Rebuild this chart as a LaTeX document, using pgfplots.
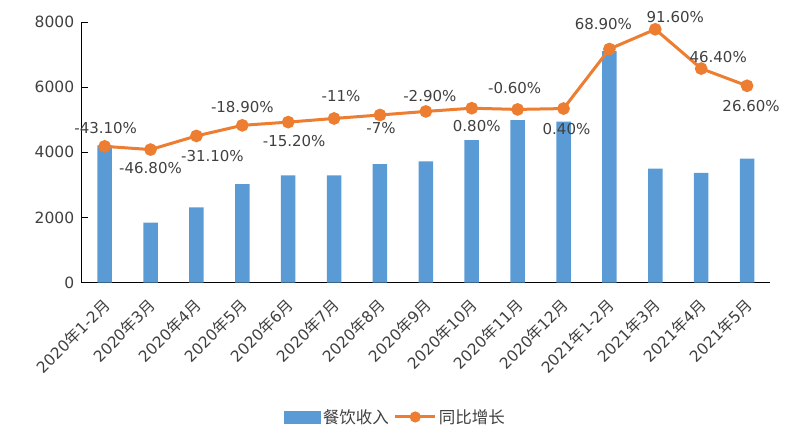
\documentclass[border=0pt]{standalone}
\usepackage{pgfplots}
\pgfplotsset{compat=1.18}
\usepackage{pgfplotstable}
\usepackage{fontspec}
\setmainfont{DejaVu Sans}
\newfontfamily\cjk{Noto Sans CJK SC}
\definecolor{barblue}{HTML}{5B9BD5}
\definecolor{lineorange}{HTML}{ED7D31}
\definecolor{txt}{HTML}{404040}
\newcommand\N{{\cjk 年}}
\newcommand\Y{{\cjk 月}}

\pgfplotstableread{
x rev
0 4215
1 1840
2 2313
3 3028
4 3294
5 3294
6 3641
7 3724
8 4377
9 4991
10 4945
11 7107
12 3497
13 3374
14 3804
}\revtable

\pgfplotstableread{
x pct lab dx dy
0 -43.1 -43.10 1 18
1 -46.8 -46.80 0 -18
2 -31.1 -31.10 16 -20
3 -18.9 -18.90 0 18
4 -15.2 -15.20 6 -19
5 -11 -11 7 22
6 -7 -7 1 -13
7 -2.9 -2.90 4 15
8 0.8 0.80 5 -18
9 -0.6 -0.60 -3 21
10 0.4 0.40 3 -20
11 68.9 68.90 -6 25
12 91.6 91.60 20 12
13 46.4 46.40 17 12
14 26.6 26.60 4 -20
}\pcttable

\begin{document}
\begin{tikzpicture}
\begin{axis}[
  at={(81.7bp,-282.7bp)}, anchor=south west,
  scale only axis, width=688.3bp, height=260.7bp,
  xmin=-0.5, xmax=14.5, ymin=0, ymax=8000,
  axis x line*=bottom, axis y line*=left,
  axis line style={-, draw=black, line width=0.8bp},
  ytick={0,2000,4000,6000,8000},
  major tick length=6bp,
  ytick style={draw=black, line width=0.8bp},
  xtick={0,...,14},
  xtick style={draw=none},
  xticklabels={2020\N1-2\Y,2020\N3\Y,2020\N4\Y,2020\N5\Y,2020\N6\Y,2020\N7\Y,2020\N8\Y,2020\N9\Y,2020\N10\Y,2020\N11\Y,2020\N12\Y,2021\N1-2\Y,2021\N3\Y,2021\N4\Y,2021\N5\Y},
  x tick label style={xshift=3bp, yshift=-19bp, rotate=45, anchor=east, font=\fontsize{15.5bp}{17bp}\selectfont, text=txt, inner sep=1bp},
  y tick label style={font=\fontsize{15.5bp}{18bp}\selectfont, text=txt, /pgf/number format/1000 sep={}, xshift=-4bp},
  /pgf/number format/assume math mode=true,
  scaled y ticks=false,
  clip=false,
]
\addplot[ybar, bar width=14.5bp, fill=barblue, draw=none] table[x=x,y=rev]{\revtable};
\end{axis}
\begin{axis}[
  at={(81.7bp,-282.7bp)}, anchor=south west,
  scale only axis, width=688.3bp, height=260.7bp,
  xmin=-0.5, xmax=14.5, ymin=-200, ymax=100,
  hide axis, clip=false,
  legend style={at={(0.456,-0.515)}, anchor=center, draw=none, fill=none,
    legend columns=-1, font=\fontsize{16.5bp}{18bp}\selectfont\cjk, text=txt,
    /tikz/every even column/.append style={column sep=3bp},
    /tikz/every odd column/.append style={column sep=0bp}},
]
\addlegendimage{legend image code/.code={\fill[barblue] (0bp,-6bp) rectangle (36bp,6bp);}}
\addlegendentry{餐饮收入}
\addplot[lineorange, line width=3bp, mark=*, mark size=4.8bp,
  mark options={solid, fill=lineorange, draw=none},
  point meta=explicit symbolic,
  nodes near coords={\pgfplotspointmeta\%},
  visualization depends on={\thisrow{dx}\as\dx},
  visualization depends on={\thisrow{dy}\as\dy},
  every node near coord/.style={anchor=center, xshift=\dx bp, yshift=\dy bp,
    font=\fontsize{15bp}{18bp}\selectfont, text=txt, inner sep=0pt},
  legend image code/.code={\draw[lineorange, line width=3bp] (0bp,0bp) -- (40bp,0bp); \fill[lineorange] (20bp,0bp) circle (4bp);},
] table[x=x, y=pct, meta=lab]{\pcttable};
\addlegendentry{同比增长}
\end{axis}
\pgfresetboundingbox
\useasboundingbox (0,0) rectangle (792bp,-446bp);
\end{tikzpicture}
\end{document}
